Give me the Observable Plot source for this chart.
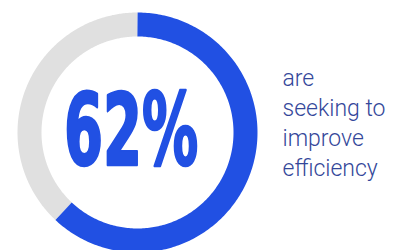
<!DOCTYPE html>
<html>
<head>
<meta charset="utf-8">
<script src="https://cdn.jsdelivr.net/npm/d3@7"></script>
<script src="https://cdn.jsdelivr.net/npm/@observablehq/plot@0.6"></script>
<style>
  html, body { margin: 0; padding: 0; background: #fff; }
  #chart { width: 398px; height: 250px; overflow: hidden; }
</style>
</head>
<body>
<div id="chart"></div>
<script>
// Data
const categories = ["Seeking to improve efficiency", "Other"];
const shares = [62, 38];
const bigLabel = ["62%"];
const sideText = ["are", "seeking to", "improve", "efficiency"];

const W = 398, H = 250;
const cx = 137, cy = 132, rMid = 108; // layout of the ring (pixels)

// Build ring paths from the share values (angles from top, clockwise)
const total = d3.sum(shares);
const segments = [];
let start = 0;
shares.forEach((v, i) => {
  const a0 = start / total * 2 * Math.PI;
  const a1 = (start + v) / total * 2 * Math.PI;
  const n = 240;
  for (let k = 0; k <= n; k++) {
    const t = a0 + (a1 - a0) * k / n;
    segments.push({cat: categories[i], x: Math.sin(t), y: Math.cos(t)});
  }
  start += v;
});

const xDomain = [-cx / rMid, (W - cx) / rMid];
const yDomain = [-(H - cy) / rMid, cy / rMid];

const chart = Plot.plot({
  width: W,
  height: H,
  margin: 0,
  x: {domain: xDomain, range: [0, W], axis: null},
  y: {domain: yDomain, range: [H, 0], axis: null},
  color: {domain: categories, range: ["#2150e3", "#e0e0e0"]},
  marks: [
    Plot.line(segments.filter(d => d.cat === categories[1]), {x: "x", y: "y", stroke: "cat", strokeWidth: 24, strokeLinecap: "butt", curve: "linear"}),
    Plot.line(segments.filter(d => d.cat === categories[0]), {x: "x", y: "y", stroke: "cat", strokeWidth: 24, strokeLinecap: "butt", curve: "linear"}),
    Plot.text(bigLabel, {x: [-0.055], y: [-0.01], text: d => d, fill: "#2150e3", stroke: "#2150e3", strokeWidth: 2.5, strokeLinejoin: "round", fontSize: 99, fontWeight: 700, fontFamily: "DejaVu Sans Condensed, DejaVu Sans", textAnchor: "middle", lineAnchor: "middle", className: "big-label"}),
    Plot.text([sideText.join("\n")], {x: [(282 - cx) / rMid], y: [(cy - 64) / rMid], text: d => d, fill: "#34479a", fontSize: 23, fontWeight: 300, fontFamily: "Roboto", textAnchor: "start", lineAnchor: "top", lineHeight: 1.31})
  ]
});

document.getElementById("chart").appendChild(chart);

// Condense the big label horizontally around its centre
const svg = d3.select(chart);
const bigG = svg.select("g.big-label");
const labelX = (-0.055 + cx / rMid) * rMid;
const labelY = cy;
bigG.attr("transform", `translate(${labelX},${labelY}) scale(0.63,1) translate(${-labelX},${-labelY})`);
</script>
</body>
</html>
